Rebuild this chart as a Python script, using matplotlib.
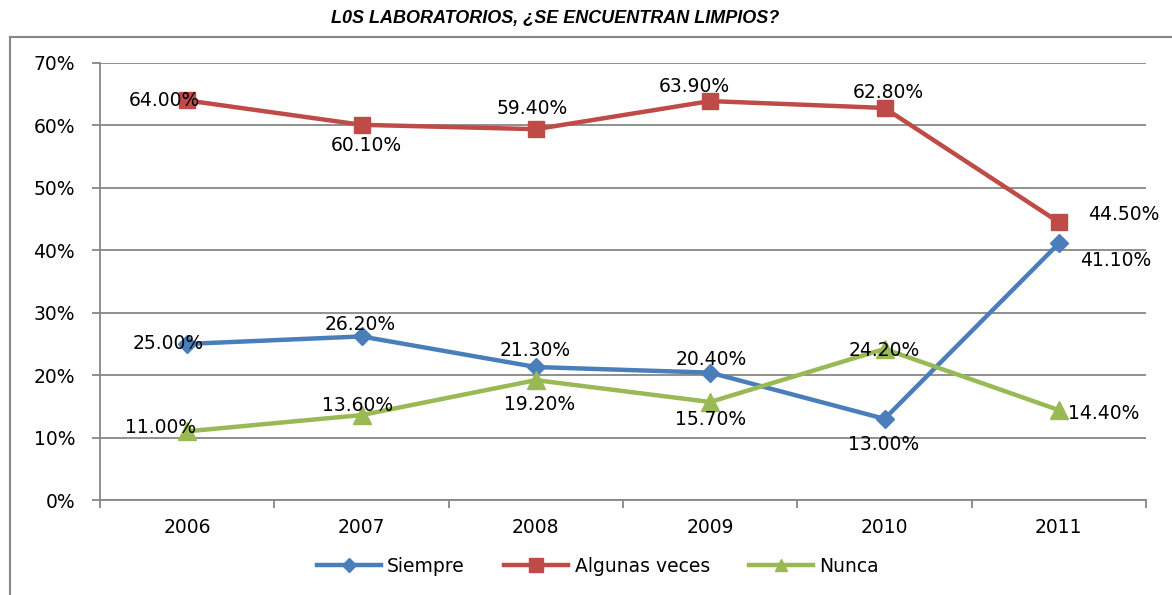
import matplotlib
matplotlib.use("Agg")
import matplotlib.pyplot as plt
from matplotlib.lines import Line2D
from matplotlib import font_manager

years = ["2006", "2007", "2008", "2009", "2010", "2011"]
siempre = [25.0, 26.2, 21.3, 20.4, 13.0, 41.1]
algunas = [64.0, 60.1, 59.4, 63.9, 62.8, 44.5]
nunca = [11.0, 13.6, 19.2, 15.7, 24.2, 14.4]
series_names = ["Siempre", "Algunas veces", "Nunca"]
title = "L0S LABORATORIOS, ¿SE ENCUENTRAN LIMPIOS?"

# label offsets in pixels (dx, dy) relative to each point
off_s = [(-19, 0), (-1, 12), (-1, 17), (1, 13), (-1, -26), (57, -17)]
off_a = [(-23, 0), (5, -21), (-4, 21), (-16, 15), (4, 15), (65, 8)]
off_n = [(-27, 4), (-4, 10), (4, -24), (0, -18), (0, -2), (45, -3)]

blue = "#4A7EBB"
red = "#BE4B48"
green = "#98B954"
gray = "#878787"

names = {f.name for f in font_manager.fontManager.ttflist}
title_font = "Liberation Sans Narrow" if "Liberation Sans Narrow" in names else "Liberation Sans"

fig = plt.figure(figsize=(11.72, 5.95), dpi=100)
ax = fig.add_axes([100/1172, 1-500/595, 1046/1172, 437/595])

x = list(range(len(years)))
ax.plot(x, siempre, color=blue, lw=3.2, marker="D", ms=9, zorder=3)
ax.plot(x, algunas, color=red, lw=3.2, marker="s", ms=12, zorder=3)
ax.plot(x, nunca, color=green, lw=3.2, marker="^", ms=13, zorder=3)

fs = 13.5
for vals, offs in [(siempre, off_s), (algunas, off_a), (nunca, off_n)]:
    for i, (v, o) in enumerate(zip(vals, offs)):
        ax.annotate(f"{v:.2f}%", (i, v), xytext=o, textcoords="offset pixels",
                    ha="center", va="center", fontsize=fs, color="black",
                    family="DejaVu Sans", zorder=4)

ax.set_xlim(-0.5, len(years) - 0.5)
ax.set_ylim(0, 70)
ax.set_yticks(range(0, 71, 10))
ax.set_yticklabels([f"{v}%" for v in range(0, 71, 10)], fontsize=fs)
ax.yaxis.grid(True, color=gray, lw=1.3)
ax.set_axisbelow(True)
ax.set_xticks([i - 0.5 for i in range(len(years) + 1)])
ax.set_xticklabels([""] * (len(years) + 1))
ax.set_xticks(x, minor=True)
ax.set_xticklabels(years, minor=True, fontsize=fs)
ax.tick_params(axis="x", which="minor", length=0, pad=13)
ax.tick_params(axis="x", which="major", length=6, color=gray, width=1.3, direction="out")
ax.tick_params(axis="y", length=6, color=gray, width=1.3, pad=12)
for s in ["top", "right"]:
    ax.spines[s].set_visible(False)
for s in ["left", "bottom"]:
    ax.spines[s].set_color(gray)
    ax.spines[s].set_linewidth(1.3)

handles = [Line2D([0], [0], color=blue, lw=3.2, marker="D", ms=7),
           Line2D([0], [0], color=red, lw=3.2, marker="s", ms=10),
           Line2D([0], [0], color=green, lw=3.2, marker="^", ms=9)]
fig.legend(handles, series_names, loc="center", bbox_to_anchor=(598/1172, 1-566/595),
           ncol=3, frameon=False, fontsize=fs, handlelength=3.4, handletextpad=0.35,
           columnspacing=2.1)

fig.text(555/1172, 1-18/595, title, ha="center", va="center", fontsize=13,
         fontweight="bold", style="italic", family=title_font)

# chart-area frame lines
fig.add_artist(Line2D([10/1172, 10/1172], [0, 1-37/595], color=gray, lw=1.5,
                      transform=fig.transFigure))
fig.add_artist(Line2D([10/1172, 1], [1-37/595, 1-37/595], color=gray, lw=1.5,
                      transform=fig.transFigure))

fig.savefig("out.png", dpi=100)
